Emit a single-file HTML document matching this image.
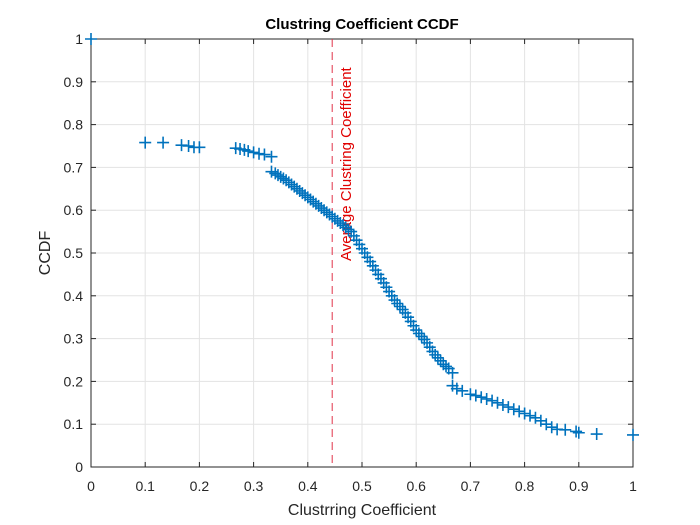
<!DOCTYPE html>
<html><head><meta charset="utf-8"><style>
body{margin:0;background:#fff}
svg{display:block;font-family:"Liberation Sans",sans-serif}
</style></head><body>
<svg id="chart" width="700" height="525" viewBox="0 0 700 525">
<rect width="700" height="525" fill="#fff"/>
<g id="grid"></g><g id="axes"></g><g id="marks"></g>
<text x="362" y="29" text-anchor="middle" font-size="15" font-weight="bold" fill="#000">Clustring Coefficient CCDF</text>
<text x="362" y="515" text-anchor="middle" font-size="16" fill="#262626">Clustrring Coefficient</text>
<text transform="translate(50,253) rotate(-90)" text-anchor="middle" font-size="16" fill="#262626">CCDF</text>
</svg>
<script>
const xTicks=[0,0.1,0.2,0.3,0.4,0.5,0.6,0.7,0.8,0.9,1];
const yTicks=[0,0.1,0.2,0.3,0.4,0.5,0.6,0.7,0.8,0.9,1];
const tickLabels=["0","0.1","0.2","0.3","0.4","0.5","0.6","0.7","0.8","0.9","1"];
const xVals=[0,0.1,0.133,0.167,0.18,0.19,0.2,0.267,0.275,0.283,0.29,0.3,0.31,0.32,0.333,
0.333,0.34,0.345,0.35,0.355,0.36,0.365,0.37,0.375,0.38,0.385,0.39,0.395,0.4,0.405,0.41,0.415,0.42,0.425,0.43,0.435,0.44,0.445,0.45,0.455,0.46,0.465,0.47,0.475,0.48,0.485,0.49,0.495,0.5,0.505,0.51,0.515,0.52,0.525,0.53,0.535,0.54,0.545,0.55,0.555,0.56,0.565,0.57,0.575,0.58,0.585,0.59,0.595,0.6,0.605,0.61,0.615,0.62,0.625,0.63,0.635,0.64,0.645,0.65,0.655,0.66,0.667,
0.667,0.675,0.685,0.7,0.71,0.72,0.73,0.74,0.75,0.76,0.77,0.78,0.79,0.8,0.81,0.82,0.83,0.84,0.85,0.86,0.875,0.895,0.9,0.933,1];
const yVals=[1,0.758,0.758,0.752,0.75,0.747,0.747,0.745,0.743,0.741,0.738,0.735,0.732,0.73,0.725,
0.69,0.686,0.682,0.678,0.674,0.67,0.665,0.66,0.655,0.65,0.645,0.64,0.635,0.63,0.625,0.62,0.615,0.61,0.605,0.6,0.595,0.59,0.585,0.58,0.575,0.57,0.565,0.56,0.555,0.55,0.54,0.53,0.52,0.51,0.5,0.49,0.48,0.47,0.46,0.45,0.44,0.43,0.42,0.41,0.4,0.39,0.382,0.375,0.368,0.36,0.35,0.34,0.33,0.32,0.312,0.305,0.298,0.29,0.28,0.27,0.262,0.255,0.248,0.24,0.235,0.23,0.22,
0.19,0.183,0.178,0.17,0.167,0.163,0.159,0.155,0.15,0.145,0.14,0.135,0.13,0.125,0.12,0.115,0.108,0.1,0.093,0.088,0.087,0.083,0.08,0.077,0.075];
const avgCoef=0.445;
const L=91,R=633,T=39,B=467;
const sx=v=>L+(R-L)*v, sy=v=>B-(B-T)*v;
const NS="http://www.w3.org/2000/svg";
function mk(tag,attrs,parent,text){const e=document.createElementNS(NS,tag);for(const k in attrs)e.setAttribute(k,attrs[k]);if(text!==undefined)e.textContent=text;document.getElementById(parent).appendChild(e);return e;}
xTicks.forEach((v,i)=>{
 const g=mk('line',{x1:sx(v),x2:sx(v),y1:T,y2:B,stroke:'#e3e3e3','stroke-width':1},'grid');
 
 
 const t=mk('text',{x:sx(v),y:B+24,'text-anchor':'middle','font-size':14,fill:'#262626'},'axes',tickLabels[i]);
 
 
 mk('line',{x1:sx(v),x2:sx(v),y1:B,y2:B-5,stroke:'#262626'},'axes');
 mk('line',{x1:sx(v),x2:sx(v),y1:T,y2:T+5,stroke:'#262626'},'axes');
});
yTicks.forEach((v,i)=>{
 const g=mk('line',{x1:L,x2:R,y1:sy(v),y2:sy(v),stroke:'#e3e3e3','stroke-width':1},'grid');
 
 
 const t=mk('text',{x:L-8,y:sy(v)+5,'text-anchor':'end','font-size':14,fill:'#262626'},'axes',tickLabels[i]);
 
 
 mk('line',{x1:L,x2:L+5,y1:sy(v),y2:sy(v),stroke:'#262626'},'axes');
 mk('line',{x1:R,x2:R-5,y1:sy(v),y2:sy(v),stroke:'#262626'},'axes');
});
const box=mk('rect',{x:L,y:T,width:R-L,height:B-T,fill:'none',stroke:'#262626','stroke-width':1},'axes');


const al=mk('line',{x1:sx(avgCoef),x2:sx(avgCoef),y1:T,y2:B,stroke:'#e0344a','stroke-width':1,'stroke-dasharray':'8,5'},'marks');


const at=mk('text',{transform:`translate(${sx(avgCoef)+19},261) rotate(-90)`,'font-size':15,fill:'#e00000'},'marks','Average Clustring Coefficient');


xVals.forEach((xv,i)=>{
 const x=sx(xv),y=sy(yVals[i]);
 const p=mk('path',{d:`M${x-6},${y}H${x+6}M${x},${y-6}V${y+6}`,stroke:'#0072bd','stroke-width':1.6},'marks');
 
 
});
</script>
</body></html>
